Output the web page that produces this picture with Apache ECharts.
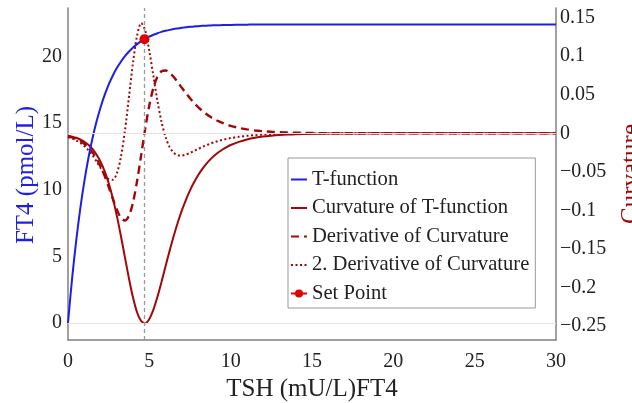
<!DOCTYPE html>
<html>
<head>
<meta charset="utf-8">
<script src="https://cdn.jsdelivr.net/npm/echarts@6/dist/echarts.min.js"></script>
<style>
html,body{margin:0;padding:0;background:#fff;}
#chart{width:632px;height:403px;}
</style>
</head>
<body>
<div id="chart"></div>
<script>
// TSH values (x)
const xs = [0,0.25,0.5,0.75,1,1.25,1.5,1.75,2,2.25,2.5,2.75,3,3.25,3.5,3.75,4,4.25,4.5,4.75,5,5.25,5.5,5.75,6,6.25,6.5,6.75,7,7.25,7.5,7.75,8,8.25,8.5,8.75,9,9.25,9.5,9.75,10,10.5,11,11.5,12,12.5,13,13.5,14,15,16,18,20,25,30];
// FT4 (left axis)
const tFunction = [0,3.31,6.13,8.54,10.59,12.34,13.82,15.09,16.17,17.09,17.88,18.55,19.12,19.60,20.02,20.37,20.67,20.92,21.14,21.33,21.49,21.62,21.74,21.84,21.92,21.99,22.05,22.10,22.15,22.18,22.22,22.24,22.27,22.29,22.30,22.32,22.33,22.34,22.35,22.36,22.36,22.37,22.38,22.39,22.39,22.4,22.4,22.4,22.4,22.4,22.4,22.4,22.4,22.4,22.4];
// Curvature (right axis)
const curvature = [-0.0031,-0.0043,-0.0058,-0.008,-0.0109,-0.0149,-0.0202,-0.0274,-0.0368,-0.049,-0.0645,-0.0838,-0.1067,-0.1328,-0.1608,-0.1885,-0.2132,-0.2323,-0.2435,-0.2462,-0.2407,-0.2286,-0.2119,-0.1925,-0.1721,-0.1521,-0.1331,-0.1157,-0.1,-0.0862,-0.074,-0.0634,-0.0543,-0.0464,-0.0396,-0.0338,-0.0288,-0.0246,-0.021,-0.0179,-0.0152,-0.0111,-0.008,-0.0058,-0.0042,-0.0031,-0.0022,-0.0016,-0.0012,-0.0006,-0.0003,-0.0001,0,0,0];
const dCurvature = [-0.0039,-0.0054,-0.0074,-0.01,-0.0136,-0.0184,-0.0246,-0.0327,-0.0429,-0.0552,-0.0694,-0.0845,-0.0988,-0.1094,-0.1131,-0.1068,-0.0892,-0.0616,-0.0279,0.0064,0.0364,0.0591,0.0735,0.0804,0.0815,0.0785,0.073,0.0662,0.059,0.052,0.0454,0.0393,0.034,0.0292,0.025,0.0214,0.0183,0.0157,0.0134,0.0114,0.0097,0.0071,0.0051,0.0037,0.0027,0.002,0.0014,0.001,0.0008,0.0004,0.0002,0.0001,0,0,0];
const d2Curvature = [-0.005,-0.0068,-0.0092,-0.0123,-0.0165,-0.0218,-0.0285,-0.0363,-0.045,-0.0534,-0.0595,-0.0603,-0.052,-0.031,0.0035,0.0476,0.0923,0.127,0.143,0.133,0.1067,0.0742,0.0418,0.0148,-0.0051,-0.0179,-0.0252,-0.0283,-0.0287,-0.0275,-0.0254,-0.0229,-0.0203,-0.0178,-0.0155,-0.0134,-0.0115,-0.0099,-0.0085,-0.0073,-0.0062,-0.0045,-0.0033,-0.0024,-0.0017,-0.0013,-0.0009,-0.0007,-0.0005,-0.0003,-0.0001,0,0,0,0];
const setPoint = [4.7, 21.29];
// tick labels
const leftTicks = [0,5,10,15,20];
const rightTicks = [-0.25,-0.2,-0.15,-0.1,-0.05,0,0.05,0.1,0.15];
const seriesNames = ['T-function','Curvature of T-function','Derivative of Curvature','2. Derivative of Curvature','Set Point'];

const SERIF = "'Liberation Serif','Times New Roman',serif";
const BLUE = '#1e1ee6';
const DRED = '#a00808';
const AXIS = '#808080';
const pairs = ys => xs.map((x, i) => [x, ys[i]]);

const chart = echarts.init(document.getElementById('chart'), null, {renderer: 'canvas'});
chart.setOption({
  animation: false,
  backgroundColor: '#fff',
  grid: {left: 68, right: 76, top: 8, bottom: 63, containLabel: false, outerBoundsMode: 'none'},
  xAxis: {
    type: 'value', min: 0, max: 30, interval: 5,
    axisLine: {show: true, onZero: false, lineStyle: {color: AXIS, width: 1.5}},
    axisTick: {show: false},
    splitLine: {show: false},
    axisLabel: {fontFamily: SERIF, fontSize: 20, color: '#222', margin: 12}
  },
  yAxis: [{
    type: 'value', min: -1.275, max: 23.63, position: 'left',
    axisLine: {show: true, onZero: false, lineStyle: {color: AXIS, width: 1.5}},
    axisTick: {show: false},
    splitLine: {show: false},
    axisLabel: {customValues: leftTicks, fontFamily: SERIF, fontSize: 20, color: '#222', margin: 6}
  }, {
    type: 'value', min: -0.268, max: 0.1625, position: 'right',
    axisLine: {show: true, onZero: false, lineStyle: {color: AXIS, width: 1.5}},
    axisTick: {show: false},
    splitLine: {show: false},
    axisLabel: {
      customValues: rightTicks, fontFamily: SERIF, fontSize: 20, color: '#222', margin: 4,
      formatter: v => String(Math.round(v * 100) / 100).replace('-', '\u2212')
    }
  }],
  legend: {
    orient: 'vertical', left: 288, top: 158,
    data: seriesNames.map((n, i) => i < 4 ? {name: n, itemStyle: {opacity: 0}} : {name: n}),
    backgroundColor: '#fff', borderColor: '#999', borderWidth: 1,
    padding: [11, 6, 4, 2],
    itemWidth: 16, itemHeight: 10, itemGap: 7.5,
    textStyle: {fontFamily: SERIF, fontSize: 20.6, color: '#222', lineHeight: 20}
  },
  graphic: [
    {type: 'text', x: 26, y: 175, rotation: Math.PI / 2, silent: true,
     style: {text: 'FT4 (pmol/L)', font: '25px ' + SERIF, fill: BLUE, align: 'center', verticalAlign: 'middle', textAlign: 'center', textVerticalAlign: 'middle'}},
    {type: 'text', x: 631, y: 174, rotation: Math.PI / 2, silent: true,
     style: {text: 'Curvature', font: '25px ' + SERIF, fill: DRED, align: 'center', verticalAlign: 'middle', textAlign: 'center', textVerticalAlign: 'middle'}},
    {type: 'text', x: 312, y: 389, silent: true,
     style: {text: 'TSH (mU/L)FT4', font: '25px ' + SERIF, fill: '#222', align: 'center', verticalAlign: 'middle', textAlign: 'center', textVerticalAlign: 'middle'}}
  ],
  series: [
    {
      name: seriesNames[0], type: 'line', yAxisIndex: 0, data: pairs(tFunction),
      symbol: 'none', smooth: 0.3, z: 3,
      lineStyle: {color: BLUE, width: 2}, itemStyle: {color: BLUE},
      markLine: {
        silent: true, symbol: ['none', 'none'], label: {show: false}, animation: false,
        data: [
          {yAxis: 0, lineStyle: {color: '#e4e4e4', width: 1, type: 'solid'}},
          {xAxis: setPoint[0], lineStyle: {color: '#9a9a9a', width: 1.3, type: [4, 3]}}
        ]
      }
    },
    {
      name: seriesNames[1], type: 'line', yAxisIndex: 1, data: pairs(curvature),
      symbol: 'none', smooth: 0.3, z: 2,
      lineStyle: {color: DRED, width: 2}, itemStyle: {color: DRED},
      markLine: {
        silent: true, symbol: ['none', 'none'], label: {show: false}, animation: false,
        data: [{yAxis: 0, lineStyle: {color: '#e4e4e4', width: 1, type: 'solid'}}]
      }
    },
    {
      name: seriesNames[2], type: 'line', yAxisIndex: 1, data: pairs(dCurvature),
      symbol: 'none', smooth: 0.3, z: 2,
      lineStyle: {color: DRED, width: 2.4, type: [8, 5]}, itemStyle: {color: DRED}
    },
    {
      name: seriesNames[3], type: 'line', yAxisIndex: 1, data: pairs(d2Curvature),
      symbol: 'none', smooth: 0.3, z: 2,
      lineStyle: {color: DRED, width: 2, type: [2, 2.5]}, itemStyle: {color: DRED}
    },
    {
      name: seriesNames[4], type: 'line', yAxisIndex: 0, data: [setPoint],
      symbol: 'circle', symbolSize: 10, z: 5,
      lineStyle: {color: '#e00000', width: 2}, itemStyle: {color: '#e00000'}
    }
  ]
});
</script>
</body>
</html>
